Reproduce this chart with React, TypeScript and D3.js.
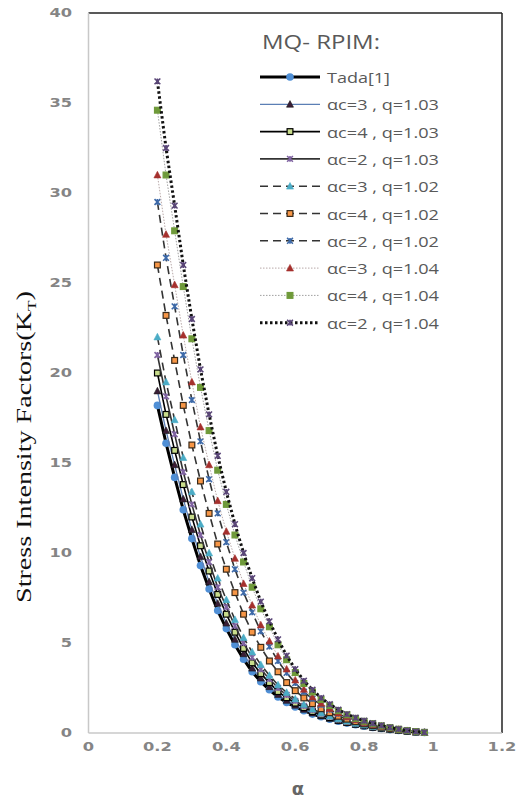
import * as d3 from 'd3'

// a/W positions
const alpha = [0.2, 0.225, 0.25, 0.275, 0.3, 0.325, 0.35, 0.375, 0.4, 0.425, 0.45, 0.475, 0.5, 0.525, 0.55, 0.575,
  0.6, 0.625, 0.65, 0.675, 0.7, 0.725, 0.75, 0.775, 0.8, 0.825, 0.85, 0.875, 0.9, 0.925, 0.95, 0.975]

const tada = [18.2, 16.1, 14.2, 12.4, 10.8, 9.3, 8.0, 6.8, 5.8, 4.9, 4.1, 3.4, 2.85, 2.4, 2.0, 1.7,
  1.45, 1.24, 1.05, 0.9, 0.77, 0.65, 0.55, 0.46, 0.38, 0.31, 0.25, 0.19, 0.14, 0.1, 0.06, 0.03]
const c3q103 = [19.0, 16.8, 14.9, 13.0, 11.3, 9.8, 8.4, 7.2, 6.1, 5.2, 4.4, 3.6, 3.05, 2.57, 2.14, 1.81,
  1.54, 1.31, 1.11, 0.95, 0.81, 0.68, 0.57, 0.48, 0.39, 0.32, 0.26, 0.2, 0.14, 0.1, 0.06, 0.03]
const c4q103 = [20.0, 17.7, 15.7, 13.8, 12.0, 10.4, 9.0, 7.7, 6.6, 5.6, 4.7, 3.9, 3.3, 2.8, 2.3, 1.96,
  1.66, 1.41, 1.19, 1.0, 0.85, 0.72, 0.6, 0.5, 0.41, 0.33, 0.27, 0.2, 0.15, 0.1, 0.06, 0.03]
const c2q103 = [21.0, 18.7, 16.6, 14.5, 12.7, 11.0, 9.5, 8.1, 7.0, 5.95, 5.0, 4.2, 3.54, 3.0, 2.5, 2.11,
  1.78, 1.5, 1.26, 1.06, 0.9, 0.75, 0.63, 0.52, 0.43, 0.35, 0.28, 0.21, 0.15, 0.11, 0.06, 0.03]
const c3q102 = [22.0, 19.5, 17.4, 15.3, 13.4, 11.6, 10.0, 8.6, 7.4, 6.3, 5.3, 4.5, 3.8, 3.2, 2.67, 2.25,
  1.89, 1.59, 1.33, 1.12, 0.94, 0.79, 0.66, 0.54, 0.44, 0.36, 0.29, 0.22, 0.16, 0.11, 0.06, 0.03]
const c4q102 = [26.0, 23.2, 20.7, 18.2, 16.0, 14.0, 12.2, 10.5, 9.1, 7.8, 6.6, 5.6, 4.76, 4.0, 3.4, 2.8,
  2.35, 1.95, 1.63, 1.35, 1.13, 0.93, 0.77, 0.63, 0.51, 0.41, 0.32, 0.24, 0.17, 0.12, 0.07, 0.03]
const c2q102 = [29.5, 26.4, 23.7, 21.0, 18.5, 16.2, 14.1, 12.2, 10.6, 9.1, 7.8, 6.7, 5.65, 4.8, 4.0, 3.34,
  2.77, 2.29, 1.9, 1.56, 1.29, 1.06, 0.87, 0.71, 0.57, 0.45, 0.36, 0.27, 0.19, 0.13, 0.07, 0.03]
const c3q104 = [31.0, 27.7, 24.9, 22.1, 19.5, 17.0, 14.9, 12.9, 11.2, 9.7, 8.3, 7.1, 6.0, 5.1, 4.27, 3.55,
  2.94, 2.42, 2.0, 1.65, 1.36, 1.11, 0.91, 0.74, 0.59, 0.47, 0.37, 0.28, 0.2, 0.13, 0.07, 0.03]
const c4q104 = [34.6, 31.0, 27.9, 24.8, 21.9, 19.2, 16.8, 14.6, 12.7, 11.0, 9.5, 8.1, 6.9, 5.9, 4.9, 4.07,
  3.36, 2.75, 2.28, 1.86, 1.53, 1.24, 1.01, 0.81, 0.65, 0.52, 0.4, 0.3, 0.21, 0.14, 0.08, 0.03]
const c2q104 = [36.2, 32.5, 29.3, 26.0, 23.0, 20.2, 17.7, 15.4, 13.4, 11.6, 10.0, 8.6, 7.3, 6.2, 5.2, 4.3,
  3.55, 2.9, 2.4, 1.95, 1.6, 1.3, 1.05, 0.85, 0.68, 0.54, 0.42, 0.31, 0.22, 0.14, 0.08, 0.03]

const seriesNames = ['Tada[1]', 'αc=3 , q=1.03', 'αc=4 , q=1.03', 'αc=2 , q=1.03', 'αc=3 , q=1.02',
  'αc=4 , q=1.02', 'αc=2 , q=1.02', 'αc=3 , q=1.04', 'αc=4 , q=1.04', 'αc=2 , q=1.04']
const seriesValues = [tada, c3q103, c4q103, c2q103, c3q102, c4q102, c2q102, c3q104, c4q104, c2q104]

const xTicks = [0, 0.2, 0.4, 0.6, 0.8, 1, 1.2]
const yTicks = [0, 5, 10, 15, 20, 25, 30, 35, 40]

type Marker = 'circle' | 'triangle' | 'square' | 'star'
type Style = { stroke: string; width: number; dash?: string; marker: Marker; fill: string; edge: string }

const styles: Style[] = [
  { stroke: '#000', width: 3, marker: 'circle', fill: '#4f8fd6', edge: '#4f8fd6' },
  { stroke: '#5b7fb5', width: 1.3, marker: 'triangle', fill: '#3a1d36', edge: '#1a1a1a' },
  { stroke: '#000', width: 1.6, marker: 'square', fill: '#c8dc8c', edge: '#000' },
  { stroke: '#333', width: 1.6, marker: 'star', fill: 'none', edge: '#8064a2' },
  { stroke: '#333', width: 1.6, dash: '8,5', marker: 'triangle', fill: '#4bacc6', edge: '#4bacc6' },
  { stroke: '#333', width: 1.6, dash: '8,5', marker: 'square', fill: '#f79646', edge: '#3a2a1a' },
  { stroke: '#333', width: 1.6, dash: '8,5', marker: 'star', fill: 'none', edge: '#3d69a8' },
  { stroke: '#b8a8a8', width: 1, dash: '1.5,1.5', marker: 'triangle', fill: '#a5302d', edge: '#a5302d' },
  { stroke: '#a0a0a0', width: 1, dash: '1.5,1.5', marker: 'square', fill: '#6f9a3a', edge: '#6f9a3a' },
  { stroke: '#111', width: 3, dash: '2.5,2.5', marker: 'star', fill: 'none', edge: '#5a4678' },
]

const W = 516
const H = 805
const x = d3.scaleLinear().domain([0, 1.2]).range([88.5, 502])
const y = d3.scaleLinear().domain([0, 40]).range([733, 13])

function MarkerShape({ cx, cy, s }: { cx: number; cy: number; s: Style }) {
  const r = 2.9
  if (s.marker === 'circle') return <circle cx={cx} cy={cy} r={r + 0.9} fill={s.fill} />
  if (s.marker === 'square')
    return <rect x={cx - r} y={cy - r} width={2 * r} height={2 * r} fill={s.fill} stroke={s.edge} strokeWidth={1.2} />
  if (s.marker === 'triangle')
    return (
      <path d={`M${cx},${cy - r - 0.8}L${cx + r + 0.6},${cy + r}L${cx - r - 0.6},${cy + r}Z`}
        fill={s.fill} stroke={s.edge} strokeWidth={0.6} />
    )
  return (
    <path d={`M${cx - r},${cy - r}L${cx + r},${cy + r}M${cx - r},${cy + r}L${cx + r},${cy - r}M${cx},${cy - r}L${cx},${cy + r}`}
      stroke={s.edge} strokeWidth={1.6} fill="none" />
  )
}

export default function App() {
  const line = d3.line<number>().x((_, i) => x(alpha[i])).y(d => y(d))
  const grey = '#858585'
  const legX0 = 260
  const legX1 = 320
  const legY0 = 77
  const legDy = 27.3

  return (
    <svg width={W} height={H} style={{ position: 'absolute', left: 0, top: 0, background: '#fff' }}>
      {/* plot frame */}
      <line x1={x(0)} x2={x(1.2)} y1={y(40)} y2={y(40)} stroke="#222" strokeWidth={1.5} />
      <line x1={x(1.2)} x2={x(1.2)} y1={y(40)} y2={y(0)} stroke="#222" strokeWidth={1.5} />
      <line x1={x(0)} x2={x(0)} y1={y(40)} y2={y(0)} stroke="#c8c8c8" strokeWidth={1.5} />
      <line x1={x(0)} x2={x(1.2)} y1={y(0)} y2={y(0)} stroke="#c8c8c8" strokeWidth={1.5} />

      {yTicks.map(v => (
        <text key={v} transform={`translate(72,${y(v)}) scale(1.3,1)`} textAnchor="end" dominantBaseline="central"
          fontFamily="DejaVu Sans" fontWeight="bold" fontSize={12.5} fill={grey}>{v}</text>
      ))}
      {xTicks.map(v => (
        <text key={v} transform={`translate(${x(v)},747) scale(1.3,1)`} textAnchor="middle" dominantBaseline="central"
          fontFamily="DejaVu Sans" fontWeight="bold" fontSize={12.5} fill={grey}>{v}</text>
      ))}

      <text x={298} y={788} textAnchor="middle" dominantBaseline="central" fontFamily="DejaVu Sans"
        fontWeight="bold" fontSize={18} fill="#666">α</text>

      <text transform="translate(24,447) rotate(-90)" textAnchor="middle" dominantBaseline="central"
        fontFamily="Liberation Serif" fontSize={21} fill="#111" textLength={312} lengthAdjust="spacingAndGlyphs">
        Stress Intensity Factors(K<tspan baselineShift="sub" fontSize={13}>T</tspan>)
      </text>

      {seriesValues.map((vals, k) => {
        const s = styles[k]
        return (
          <g key={k}>
            <path d={line(vals) || ''} fill="none" stroke={s.stroke} strokeWidth={s.width} strokeDasharray={s.dash} />
            {vals.map((v, i) => <MarkerShape key={i} cx={x(alpha[i])} cy={y(v)} s={s} />)}
          </g>
        )
      })}

      {/* legend */}
      <text x={262} y={41} dominantBaseline="central" fontFamily="Open Sans" fontSize={20} fill="#595959"
        textLength={118} lengthAdjust="spacingAndGlyphs">MQ- RPIM:</text>
      {seriesNames.map((name, k) => {
        const s = styles[k]
        const ly = legY0 + k * legDy
        return (
          <g key={name}>
            <line x1={legX0} x2={legX1} y1={ly} y2={ly} stroke={s.stroke} strokeWidth={s.width} strokeDasharray={s.dash} />
            <MarkerShape cx={(legX0 + legX1) / 2} cy={ly} s={s} />
            <text x={327} y={ly} dominantBaseline="central" fontFamily="Open Sans" fontSize={15} fill="#595959"
              textLength={k === 0 ? 63 : 112} lengthAdjust="spacingAndGlyphs">{name}</text>
          </g>
        )
      })}
    </svg>
  )
}
